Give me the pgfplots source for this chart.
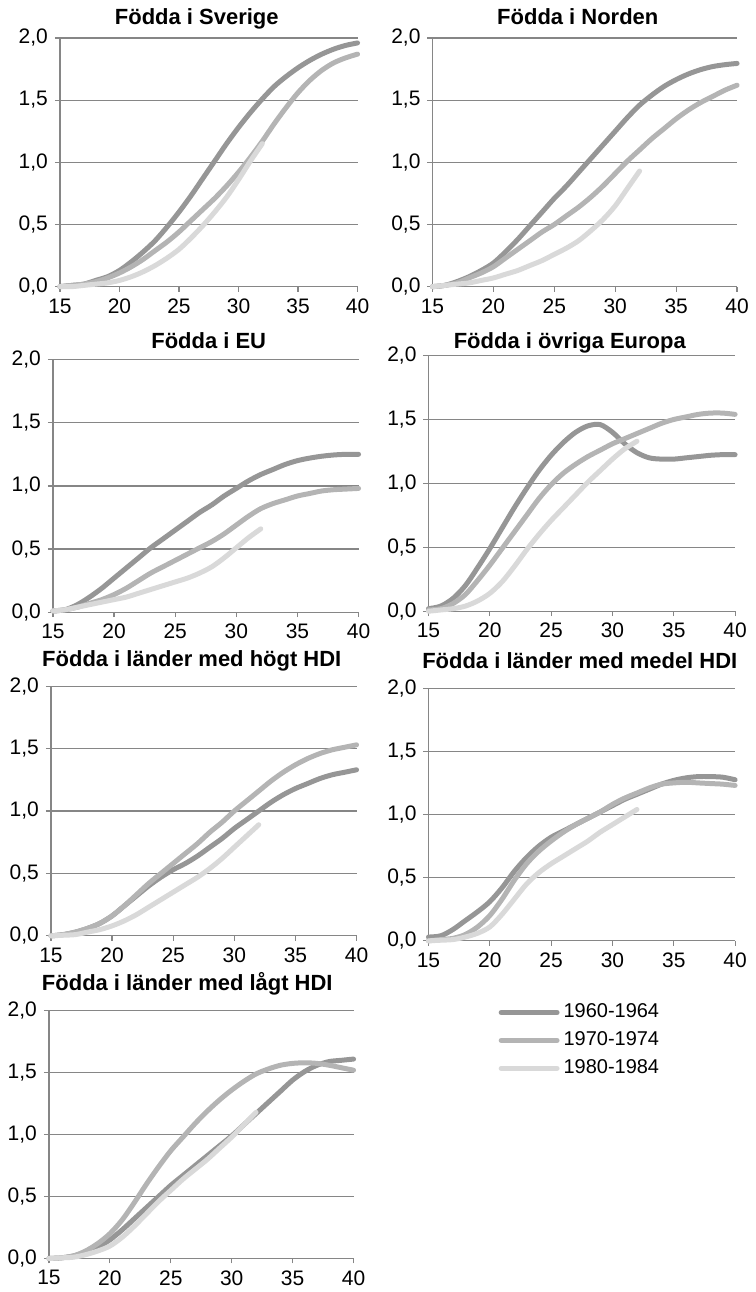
\documentclass[border=0pt]{standalone}
\usepackage{fontspec}
\setmainfont{Liberation Sans}
\usepackage{pgfplots}
\pgfplotsset{compat=1.18}
\usepackage{pgfplotstable}

\definecolor{s1}{RGB}{150,150,150}
\definecolor{s2}{RGB}{180,180,180}
\definecolor{s3}{RGB}{217,217,217}
\definecolor{gridc}{RGB}{134,134,134}

% age, 1960-1964, 1970-1974, 1980-1984
\pgfplotstableread{
age a b c
15 0.00 0.00 0.00
16 0.01 0.01 0.00
17 0.02 0.02 0.01
18 0.05 0.04 0.02
19 0.08 0.07 0.03
20 0.13 0.11 0.05
21 0.20 0.16 0.08
22 0.28 0.22 0.12
23 0.37 0.29 0.17
24 0.48 0.36 0.23
25 0.60 0.44 0.30
26 0.73 0.53 0.39
27 0.87 0.62 0.49
28 1.01 0.71 0.60
29 1.15 0.81 0.72
30 1.28 0.92 0.86
31 1.40 1.04 1.01
32 1.51 1.17 1.15
33 1.61 1.31 nan
34 1.69 1.44 nan
35 1.76 1.56 nan
36 1.82 1.66 nan
37 1.87 1.74 nan
38 1.91 1.80 nan
39 1.94 1.84 nan
40 1.96 1.87 nan
}\sverige

\pgfplotstableread{
age a b c
15 0.00 0.00 0.00
16 0.01 0.01 0.01
17 0.04 0.03 0.02
18 0.08 0.07 0.03
19 0.13 0.11 0.05
20 0.19 0.16 0.07
21 0.28 0.23 0.10
22 0.38 0.30 0.13
23 0.49 0.37 0.17
24 0.60 0.44 0.21
25 0.71 0.50 0.26
26 0.81 0.57 0.31
27 0.92 0.64 0.37
28 1.03 0.72 0.45
29 1.14 0.81 0.54
30 1.25 0.91 0.65
31 1.36 1.01 0.79
32 1.46 1.10 0.93
33 1.54 1.19 nan
34 1.61 1.27 nan
35 1.665 1.35 nan
36 1.71 1.42 nan
37 1.745 1.48 nan
38 1.77 1.53 nan
39 1.785 1.58 nan
40 1.795 1.62 nan
}\norden

\pgfplotstableread{
age a b c
15 0.01 0.01 0.01
16 0.02 0.02 0.02
17 0.06 0.04 0.04
18 0.12 0.07 0.06
19 0.19 0.10 0.08
20 0.27 0.14 0.10
21 0.35 0.19 0.12
22 0.43 0.25 0.15
23 0.51 0.31 0.18
24 0.58 0.36 0.21
25 0.65 0.41 0.24
26 0.72 0.46 0.27
27 0.79 0.51 0.31
28 0.85 0.56 0.36
29 0.92 0.62 0.43
30 0.98 0.69 0.51
31 1.04 0.76 0.59
32 1.09 0.82 0.66
33 1.13 0.86 nan
34 1.17 0.89 nan
35 1.20 0.92 nan
36 1.22 0.94 nan
37 1.235 0.96 nan
38 1.245 0.97 nan
39 1.25 0.975 nan
40 1.25 0.98 nan
}\eu

\pgfplotstableread{
age a b c
15 0.02 0.01 0.00
16 0.04 0.02 0.01
17 0.10 0.06 0.02
18 0.20 0.13 0.04
19 0.34 0.24 0.08
20 0.49 0.36 0.14
21 0.65 0.49 0.23
22 0.81 0.62 0.35
23 0.96 0.75 0.48
24 1.10 0.88 0.60
25 1.22 0.99 0.71
26 1.32 1.08 0.81
27 1.40 1.15 0.91
28 1.45 1.21 1.01
29 1.46 1.26 1.10
30 1.40 1.31 1.19
31 1.31 1.35 1.27
32 1.24 1.39 1.33
33 1.20 1.43 nan
34 1.19 1.47 nan
35 1.19 1.50 nan
36 1.20 1.52 nan
37 1.21 1.54 nan
38 1.22 1.55 nan
39 1.225 1.55 nan
40 1.225 1.54 nan
}\ovriga

\pgfplotstableread{
age a b c
15 0.00 0.00 0.00
16 0.01 0.01 0.005
17 0.03 0.03 0.01
18 0.06 0.06 0.03
19 0.10 0.10 0.05
20 0.16 0.16 0.08
21 0.24 0.24 0.12
22 0.32 0.33 0.17
23 0.40 0.42 0.23
24 0.47 0.50 0.29
25 0.53 0.58 0.35
26 0.58 0.66 0.41
27 0.64 0.74 0.47
28 0.71 0.83 0.54
29 0.78 0.91 0.62
30 0.86 1.00 0.71
31 0.93 1.08 0.80
32 1.00 1.16 0.89
33 1.07 1.24 nan
34 1.13 1.31 nan
35 1.18 1.37 nan
36 1.22 1.42 nan
37 1.26 1.46 nan
38 1.29 1.49 nan
39 1.31 1.51 nan
40 1.33 1.53 nan
}\hogt

\pgfplotstableread{
age a b c
15 0.03 0.00 0.00
16 0.04 0.01 0.005
17 0.09 0.02 0.01
18 0.16 0.05 0.03
19 0.23 0.11 0.06
20 0.31 0.20 0.11
21 0.42 0.33 0.21
22 0.55 0.48 0.33
23 0.66 0.61 0.45
24 0.75 0.71 0.54
25 0.82 0.79 0.61
26 0.87 0.86 0.67
27 0.92 0.92 0.73
28 0.97 0.97 0.79
29 1.02 1.02 0.86
30 1.07 1.08 0.92
31 1.12 1.13 0.98
32 1.16 1.17 1.04
33 1.20 1.21 nan
34 1.24 1.24 nan
35 1.27 1.25 nan
36 1.29 1.255 nan
37 1.30 1.25 nan
38 1.30 1.245 nan
39 1.295 1.24 nan
40 1.275 1.23 nan
}\medel

\pgfplotstableread{
age a b c
15 0.00 0.00 0.00
16 0.005 0.005 0.005
17 0.02 0.02 0.01
18 0.05 0.06 0.03
19 0.09 0.12 0.06
20 0.15 0.20 0.10
21 0.23 0.31 0.17
22 0.32 0.45 0.26
23 0.41 0.60 0.36
24 0.50 0.74 0.46
25 0.59 0.87 0.55
26 0.67 0.98 0.64
27 0.75 1.09 0.72
28 0.83 1.19 0.80
29 0.91 1.28 0.89
30 0.99 1.36 0.98
31 1.08 1.43 1.08
32 1.17 1.49 1.18
33 1.26 1.53 nan
34 1.35 1.56 nan
35 1.44 1.575 nan
36 1.51 1.58 nan
37 1.56 1.575 nan
38 1.59 1.56 nan
39 1.60 1.54 nan
40 1.61 1.52 nan
}\lagt

\pgfplotsset{
  panel/.style={
    scale only axis, anchor=north west,
    xmin=15, xmax=40, ymin=0, ymax=2,
    xtick={15,20,25,30,35,40}, ytick={0,0.5,1,1.5,2},
    axis lines*=left,
    axis line style={gridc, line width=0.6pt},
    ymajorgrids, grid style={gridc, line width=0.6pt},
    tick align=outside, major tick length=2.5pt,
    tick style={gridc, line width=0.6pt},
    yticklabel style={/pgf/number format/.cd, fixed, fixed zerofill, precision=1, use comma},
    /pgf/number format/assume math mode=true,
    tick label style={font=\fontsize{10.5}{12}\selectfont},
    title style={anchor=base, font=\bfseries\fontsize{11}{13}\selectfont},
    clip=false,
    every axis plot/.append style={line width=2.5pt, smooth, line cap=round, no markers},
  },
}

\begin{document}
\begin{tikzpicture}
  \path (0pt,0pt) rectangle (375pt,-646pt);

  \begin{axis}[panel, at={(30pt,-19pt)}, width=149pt, height=124.5pt,
      title={Födda i Sverige}, title style={xshift=-6pt, yshift=0.5pt}]
    \addplot[s1] table[x=age, y=a] {\sverige};
    \addplot[s2] table[x=age, y=b] {\sverige};
    \addplot[s3] table[x=age, y=c] {\sverige};
  \end{axis}

  \begin{axis}[panel, at={(216.5pt,-19pt)}, width=152.5pt, height=124.5pt,
      title={Födda i Norden}, title style={xshift=-3.5pt, yshift=0.5pt}]
    \addplot[s1] table[x=age, y=a] {\norden};
    \addplot[s2] table[x=age, y=b] {\norden};
    \addplot[s3] table[x=age, y=c] {\norden};
  \end{axis}

  \begin{axis}[panel, at={(26.5pt,-180pt)}, width=153pt, height=126.5pt,
      title={Födda i EU}, title style={xshift=1.5pt, yshift=-0.5pt}]
    \addplot[s1] table[x=age, y=a] {\eu};
    \addplot[s2] table[x=age, y=b] {\eu};
    \addplot[s3] table[x=age, y=c] {\eu};
  \end{axis}

  \begin{axis}[panel, at={(214.5pt,-178pt)}, width=153.5pt, height=128pt,
      title={Födda i övriga Europa}, title style={xshift=-6pt, yshift=-2.5pt}]
    \addplot[s1] table[x=age, y=a] {\ovriga};
    \addplot[s2] table[x=age, y=b] {\ovriga};
    \addplot[s3] table[x=age, y=c] {\ovriga};
  \end{axis}

  \begin{axis}[panel, at={(25.5pt,-343.5pt)}, width=153pt, height=125pt,
      title={Födda i länder med högt HDI}, title style={xshift=-6pt, yshift=4pt}]
    \addplot[s1] table[x=age, y=a] {\hogt};
    \addplot[s2] table[x=age, y=b] {\hogt};
    \addplot[s3] table[x=age, y=c] {\hogt};
  \end{axis}

  \begin{axis}[panel, at={(214.5pt,-344.5pt)}, width=153.5pt, height=126.5pt,
      title={Födda i länder med medel HDI}, title style={xshift=-1pt, yshift=4pt}]
    \addplot[s1] table[x=age, y=a] {\medel};
    \addplot[s2] table[x=age, y=b] {\medel};
    \addplot[s3] table[x=age, y=c] {\medel};
  \end{axis}

  \begin{axis}[panel, at={(24.5pt,-506pt)}, width=152.5pt, height=124pt,
      title={Födda i länder med lågt HDI}, title style={xshift=-7pt, yshift=4pt},
      legend style={at={(1.475,1.045)}, anchor=north west, draw=none, fill=none,
        font=\fontsize{10}{12}\selectfont, row sep=1.5pt, inner sep=0pt},
      legend cell align=left,
      legend image code/.code={\draw[#1] (0pt,0pt) -- (28pt,0pt);}]
    \addplot[s1] table[x=age, y=a] {\lagt};
    \addplot[s2] table[x=age, y=b] {\lagt};
    \addplot[s3] table[x=age, y=c] {\lagt};
    \legend{1960-1964, 1970-1974, 1980-1984}
  \end{axis}
\end{tikzpicture}
\end{document}
